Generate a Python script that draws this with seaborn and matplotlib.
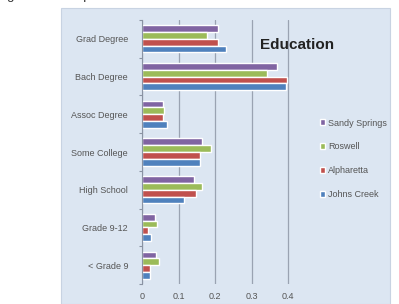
import pandas as pd
import seaborn as sns
import matplotlib.pyplot as plt
from matplotlib.patches import Rectangle

# data
levels = ['Grad Degree', 'Bach Degree', 'Assoc Degree', 'Some College',
          'High School', 'Grade 9-12', '< Grade 9']
cities = ['Sandy Springs', 'Roswell', 'Alpharetta', 'Johns Creek']
sandy_springs = [0.208, 0.370, 0.057, 0.165, 0.143, 0.035, 0.038]
roswell = [0.178, 0.343, 0.060, 0.190, 0.165, 0.040, 0.046]
alpharetta = [0.208, 0.397, 0.057, 0.160, 0.149, 0.016, 0.022]
johns_creek = [0.230, 0.395, 0.068, 0.160, 0.114, 0.024, 0.022]
x_ticks = [0, 0.1, 0.2, 0.3, 0.4]
x_labels = ['0', '0.1', '0.2', '0.3', '0.4']
colors = ['#8064a2', '#9bbb59', '#c0504d', '#4f81bd']

series = [sandy_springs, roswell, alpharetta, johns_creek]
rows = []
for city, vals in zip(cities, series):
    for lev, v in zip(levels, vals):
        rows.append({'level': lev, 'city': city, 'share': v})
df = pd.DataFrame(rows)

sns.set_style('white')
plt.rcParams['font.family'] = ['Liberation Sans', 'DejaVu Sans']

fig = plt.figure(figsize=(3.99, 3.04), dpi=100)
panel_col = '#dce6f2'
fig.patches.append(Rectangle((61 / 399, 0), (390 - 61) / 399, 1 - 8 / 304,
                             transform=fig.transFigure, facecolor=panel_col,
                             edgecolor='#c8d3e2', lw=0.8, zorder=-5))

# clipped caption at top of page
fig.text(-4 / 399, 1 + 1 / 304, 'Figure 5.  Comparison of Education Levels',
         fontsize=9.5, color='#333333', va='baseline', ha='left')

ax = fig.add_axes([142 / 399, 20 / 304, (290 - 142) / 399, (284 - 20) / 304])
ax.set_facecolor('none')
sns.barplot(data=df, y='level', x='share', hue='city', hue_order=cities,
            order=levels, orient='h', palette=colors, width=0.72,
            saturation=1, ax=ax, legend=True)

ax.set_xlim(0, 0.405)
ax.set_xticks(x_ticks)
ax.set_xticklabels(x_labels)
ax.set_yticks([i + 0.5 for i in range(-1, len(levels))], minor=True)
ax.grid(axis='x', color='#9aa3b2', lw=0.9)
ax.set_axisbelow(True)
for s in ['top', 'right', 'bottom']:
    ax.spines[s].set_visible(False)
ax.spines['left'].set_color('#8a93a3')
ax.set_xlabel('')
ax.set_ylabel('')
ax.tick_params(axis='y', which='major', labelsize=6.5, labelcolor='#555555',
               length=0, pad=10)
ax.tick_params(axis='y', which='minor', length=2, color='#8a93a3', width=0.8,
               left=True)
ax.tick_params(axis='x', labelsize=6.5, labelcolor='#555555', length=0, pad=6)

h, l = ax.get_legend_handles_labels()
ax.legend(h, l, loc='upper left', bbox_to_anchor=(315 / 399, 1 - 114 / 304),
          bbox_transform=fig.transFigure, frameon=False, fontsize=6.5,
          labelcolor='#555555', handlelength=0.65, handleheight=0.65,
          handletextpad=0.3, labelspacing=1.65, borderpad=0)

fig.text(297 / 399, 1 - 45 / 304, 'Education', fontsize=11, fontweight='bold',
         color='#222222', ha='center', va='center')

fig.savefig('out.png', dpi=100)
